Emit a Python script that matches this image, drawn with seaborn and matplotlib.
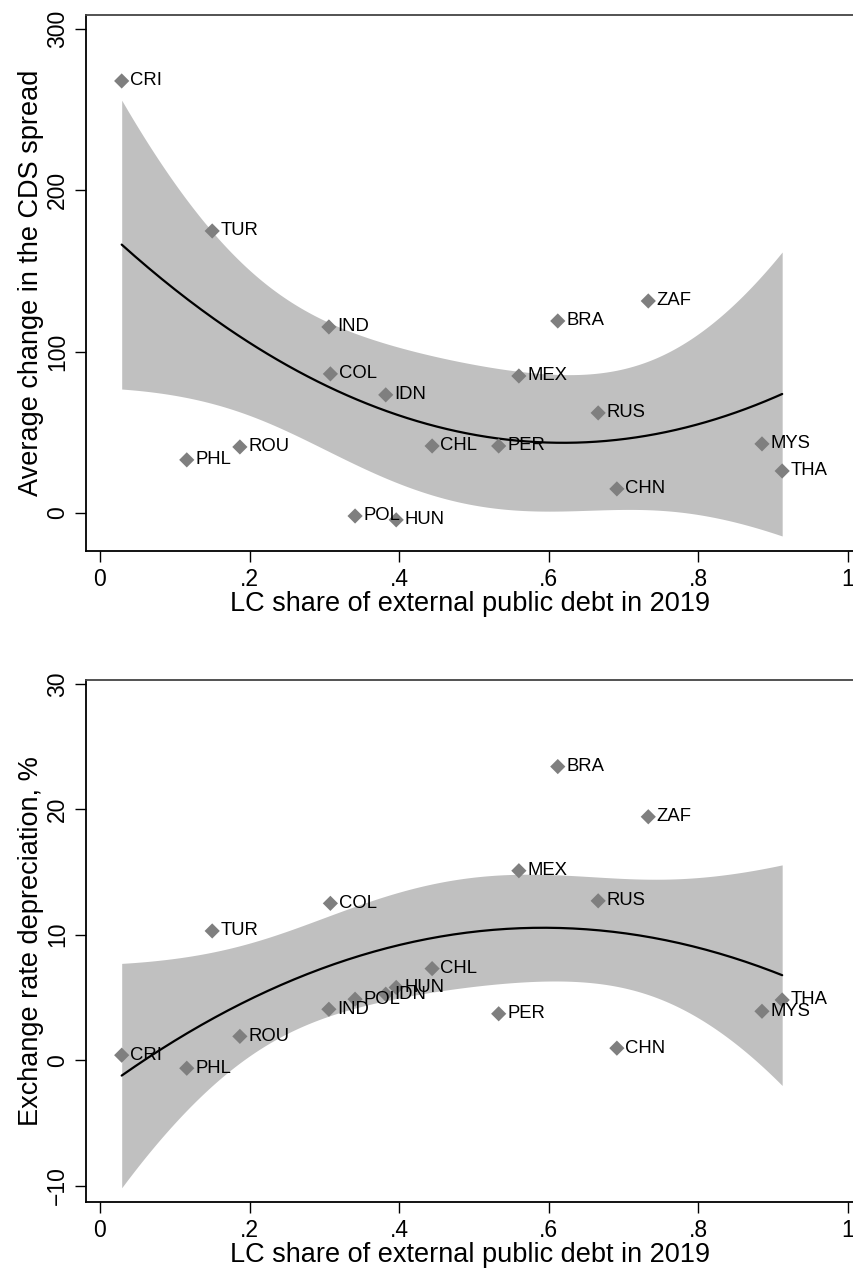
import numpy as np
import pandas as pd
import matplotlib
matplotlib.use("Agg")
import matplotlib.pyplot as plt
import seaborn as sns

# ---- data ----
countries = ["CRI", "TUR", "IND", "COL", "IDN", "PHL", "ROU", "CHL", "PER",
             "POL", "HUN", "MEX", "BRA", "ZAF", "RUS", "MYS", "THA", "CHN"]
lc_share = [0.029, 0.150, 0.306, 0.308, 0.382, 0.116, 0.187, 0.444, 0.533,
            0.341, 0.396, 0.560, 0.612, 0.733, 0.666, 0.885, 0.912, 0.691]
cds_change = [267.8, 174.8, 115.3, 86.2, 73.2, 32.9, 40.9, 41.5, 41.5,
              -1.9, -4.3, 84.9, 119.0, 131.4, 62.0, 42.8, 26.0, 14.9]
fx_dep = [0.4, 10.3, 4.06, 12.5, 5.26, -0.64, 1.9, 7.3, 3.7,
          4.86, 5.8, 15.1, 23.4, 19.4, 12.7, 3.9, 4.8, 0.96]

xticks = [0, 0.2, 0.4, 0.6, 0.8, 1.0]
xticklabels = ["0", ".2", ".4", ".6", ".8", "1"]
yticks_top = [0, 100, 200, 300]
yticks_bot = [-10, 0, 10, 20, 30]
xlabel = "LC share of external public debt in 2019"
ylabel_top = "Average change in the CDS spread"
ylabel_bot = "Exchange rate depreciation, %"

df = pd.DataFrame({"country": countries, "x": lc_share,
                   "cds": cds_change, "fx": fx_dep})

sns.set_theme(style="ticks")
plt.rcParams["font.family"] = ["Liberation Sans", "DejaVu Sans"]
plt.rcParams.update({"text.color": "black", "axes.labelcolor": "black",
                     "xtick.color": "black", "ytick.color": "black"})

T_CRIT = 2.131  # t(0.975, df=15)


def qfitci(x, y, n=200):
    x = np.asarray(x, float)
    y = np.asarray(y, float)
    X = np.column_stack([np.ones_like(x), x, x ** 2])
    beta, *_ = np.linalg.lstsq(X, y, rcond=None)
    resid = y - X @ beta
    dof = len(y) - X.shape[1]
    s2 = resid @ resid / dof
    cov = s2 * np.linalg.inv(X.T @ X)
    xg = np.linspace(x.min(), x.max(), n)
    G = np.column_stack([np.ones_like(xg), xg, xg ** 2])
    yhat = G @ beta
    se = np.sqrt(np.einsum("ij,jk,ik->i", G, cov, G))
    return xg, yhat, yhat - T_CRIT * se, yhat + T_CRIT * se


fig = plt.figure(figsize=(8.54, 12.73), dpi=100)
W, H = 854, 1273
ax1 = fig.add_axes([86 / W, 1 - 551 / H, 1 - 86 / W, (551 - 15) / H])
ax2 = fig.add_axes([86 / W, 1 - 1202 / H, 1 - 86 / W, (1202 - 680) / H])


def panel(ax, ycol, yticks, ylim, ylabel):
    xg, yhat, lo, hi = qfitci(df["x"], df[ycol])
    ax.fill_between(xg, lo, hi, color="#c0c0c0", lw=0, zorder=1)
    sns.lineplot(x=xg, y=yhat, ax=ax, color="black", lw=1.6, zorder=2)
    sns.scatterplot(data=df, x="x", y=ycol, ax=ax, marker="D", s=60,
                    color="#7f7f7f", edgecolor="none", zorder=3)
    for _, r in df.iterrows():
        ax.annotate(r["country"], (r["x"], r[ycol]), xytext=(6, 0),
                    textcoords="offset points", va="center", ha="left",
                    fontsize=13.3, color="black", zorder=4)
    ax.set_xlim((86 - 100) / 748, (854 - 100) / 748)
    ax.set_ylim(*ylim)
    ax.set_xticks(xticks)
    ax.set_xticklabels(xticklabels)
    ax.set_yticks(yticks)
    ax.set_yticklabels([f"{v}".replace("-", "\u2212") for v in yticks],
                       rotation=90, va="center")
    ax.tick_params(axis="both", labelsize=16.5, length=8, width=1,
                   color="black", labelcolor="black", pad=4)
    ax.set_xlabel(xlabel, fontsize=19.5, labelpad=0, color="black")
    ax.set_ylabel(ylabel, fontsize=19.5, labelpad=2, color="black")
    for side in ["left", "bottom", "top"]:
        ax.spines[side].set_linewidth(1.3)
        ax.spines[side].set_color("black")
    ax.spines["top"].set_color("#444444")
    ax.spines["right"].set_visible(False)
    ax.set_facecolor("white")


panel(ax1, "cds", yticks_top, (-23.6, 308.7), ylabel_top)
panel(ax2, "fx", yticks_bot, (-11.3, 30.3), ylabel_bot)

fig.savefig("out.png", dpi=100, facecolor="white")
